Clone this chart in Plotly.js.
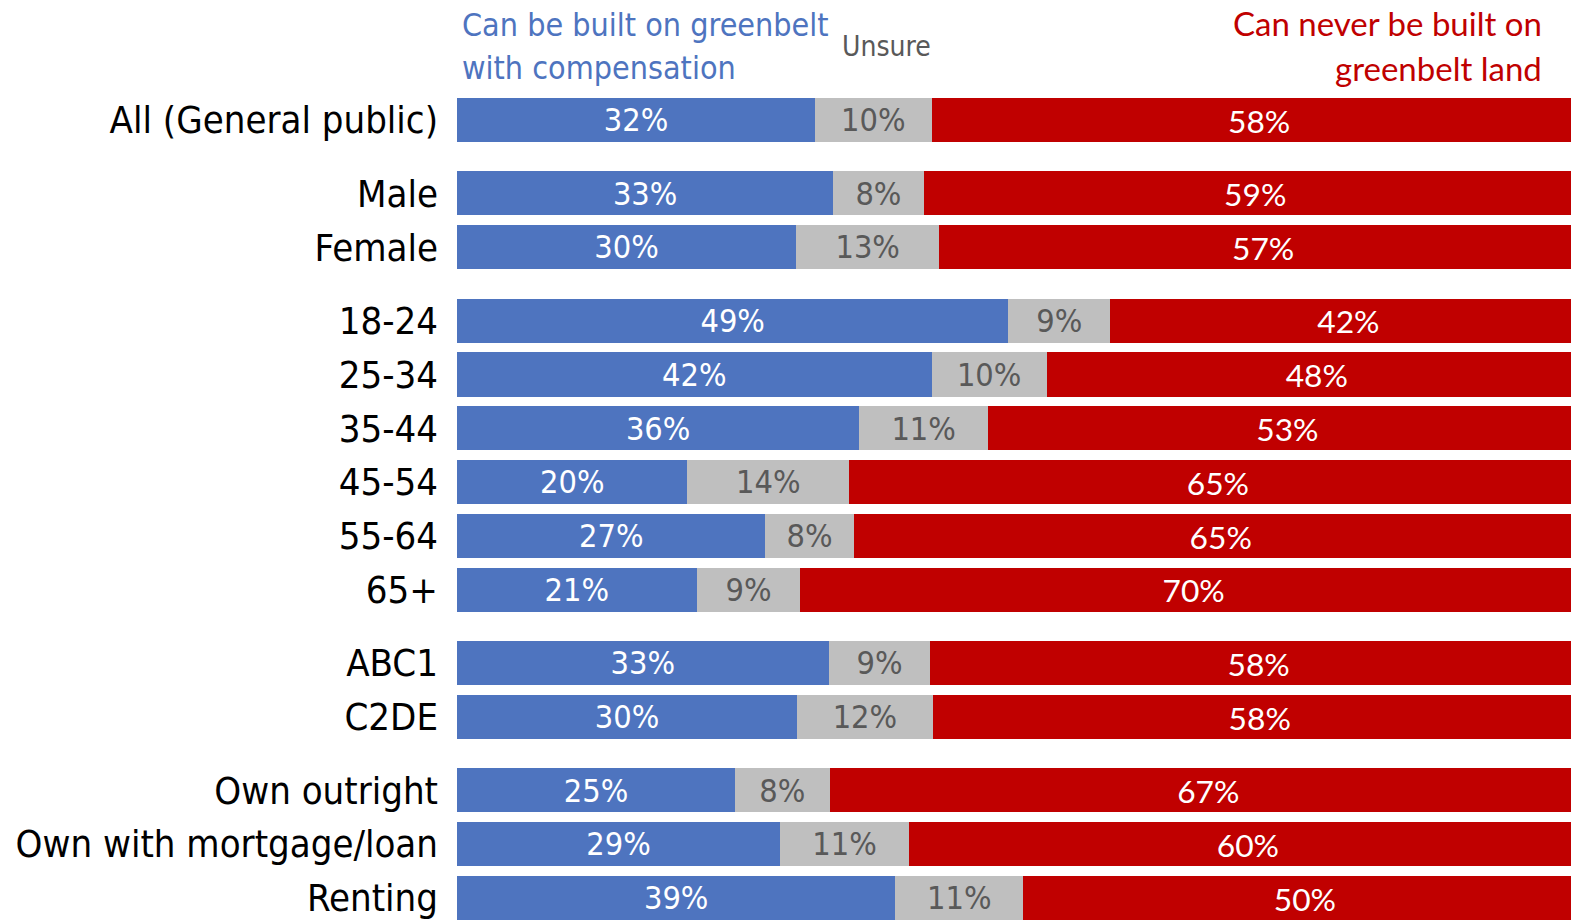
<!DOCTYPE html>
<html>
<head>
<meta charset="utf-8">
<script src="https://cdn.plot.ly/plotly-3.0.1.min.js"></script>
<style>html,body{margin:0;padding:0;background:#fff;}#chart{width:1571px;height:920px;}</style>
</head>
<body>
<div id="chart"></div>
<script>
// Rows (top to bottom) and the group each row belongs to
const categories = ["All (General public)", "Male", "Female", "18-24", "25-34", "35-44", "45-54", "55-64", "65+", "ABC1", "C2DE", "Own outright", "Own with mortgage/loan", "Renting"];
const groupOf    = [0, 1, 1, 2, 2, 2, 2, 2, 2, 3, 3, 4, 4, 4];

// Bar lengths (estimated, unrounded) in %
const builtWithComp = [31.7, 33.3, 30.0, 48.8, 42.0, 35.6, 20.4, 27.3, 21.2, 32.9, 30.1, 24.6, 28.6, 38.8];
const unsure        = [10.3, 8.0, 12.7, 9.0, 10.2, 11.4, 14.3, 7.8, 9.2, 9.0, 12.0, 8.4, 11.4, 11.3];
const neverBuilt    = [58.0, 58.7, 57.3, 42.2, 47.8, 53.0, 65.3, 65.0, 69.6, 58.1, 57.9, 67.0, 60.0, 49.9];

// Printed labels
const builtLabels = [32, 33, 30, 49, 42, 36, 20, 27, 21, 33, 30, 25, 29, 39];
const unsureLabels = [10, 8, 13, 9, 10, 11, 14, 8, 9, 9, 12, 8, 11, 11];
const neverLabels = [58, 59, 57, 42, 48, 53, 65, 65, 70, 58, 58, 67, 60, 50];

const GAP = 0.365;
const ypos = categories.map((c, i) => i + groupOf[i] * GAP);

const narrow = "Liberation Sans Narrow, DejaVu Sans Condensed, Arial Narrow, sans-serif";
const wide = "Lato, Open Sans, sans-serif";

function barTrace(vals, labels, color, txtColor, family, size) {
  return {
    type: 'bar', orientation: 'h', x: vals, y: ypos,
    marker: {color: color, line: {width: 0}},
    width: 0.82,
    text: labels.map(v => v + '%'),
    textposition: 'inside', insidetextanchor: 'middle', textangle: 0,
    textfont: {family: family, size: size, color: txtColor},
    hoverinfo: 'skip', cliponaxis: true
  };
}

const data = [
  barTrace(builtWithComp, builtLabels, '#4E74BF', '#ffffff', narrow, 33),
  barTrace(unsure, unsureLabels, '#BFBFBF', '#595959', narrow, 33),
  barTrace(neverBuilt, neverLabels, '#C00000', '#ffffff', wide, 35)
];

const H = 920, L = 457, PW = 1571 - 457;
const px = x => (x - L) / PW;
const py = y => 1 - y / H;

const layout = {
  width: 1571, height: 920,
  margin: {l: 457, r: 0, t: 0, b: 0, pad: 0},
  barmode: 'stack', bargap: 0,
  showlegend: false,
  paper_bgcolor: '#ffffff', plot_bgcolor: '#ffffff',
  xaxis: {range: [0, 98.6], visible: false, fixedrange: true},
  yaxis: {
    range: [14.87, -2.23], tickmode: 'array', tickvals: ypos, ticktext: categories,
    showgrid: false, zeroline: false, showline: false, ticks: '',
    ticklabelstandoff: 18, ticklabeloverflow: 'allow',
    tickfont: {family: narrow, size: 38, color: '#000000'}
  },
  annotations: [
    {text: 'Can be built on greenbelt', x: px(460), y: py(25), xref: 'paper', yref: 'paper', xanchor: 'left', yanchor: 'middle', showarrow: false, font: {family: narrow, size: 32, color: '#4E74BF'}},
    {text: 'with compensation', x: px(460), y: py(68), xref: 'paper', yref: 'paper', xanchor: 'left', yanchor: 'middle', showarrow: false, font: {family: narrow, size: 32, color: '#4E74BF'}},
    {text: 'Unsure', x: px(840), y: py(47), xref: 'paper', yref: 'paper', xanchor: 'left', yanchor: 'middle', showarrow: false, font: {family: narrow, size: 28, color: '#595959'}},
    {text: 'Can never be built on', x: px(1544), y: py(23), xref: 'paper', yref: 'paper', xanchor: 'right', yanchor: 'middle', showarrow: false, font: {family: wide, size: 33, color: '#C00000'}},
    {text: 'greenbelt land', x: px(1544), y: py(68), xref: 'paper', yref: 'paper', xanchor: 'right', yanchor: 'middle', showarrow: false, font: {family: wide, size: 33, color: '#C00000'}}
  ]
};

Plotly.newPlot('chart', data, layout, {staticPlot: true, displayModeBar: false});
</script>
</body>
</html>
